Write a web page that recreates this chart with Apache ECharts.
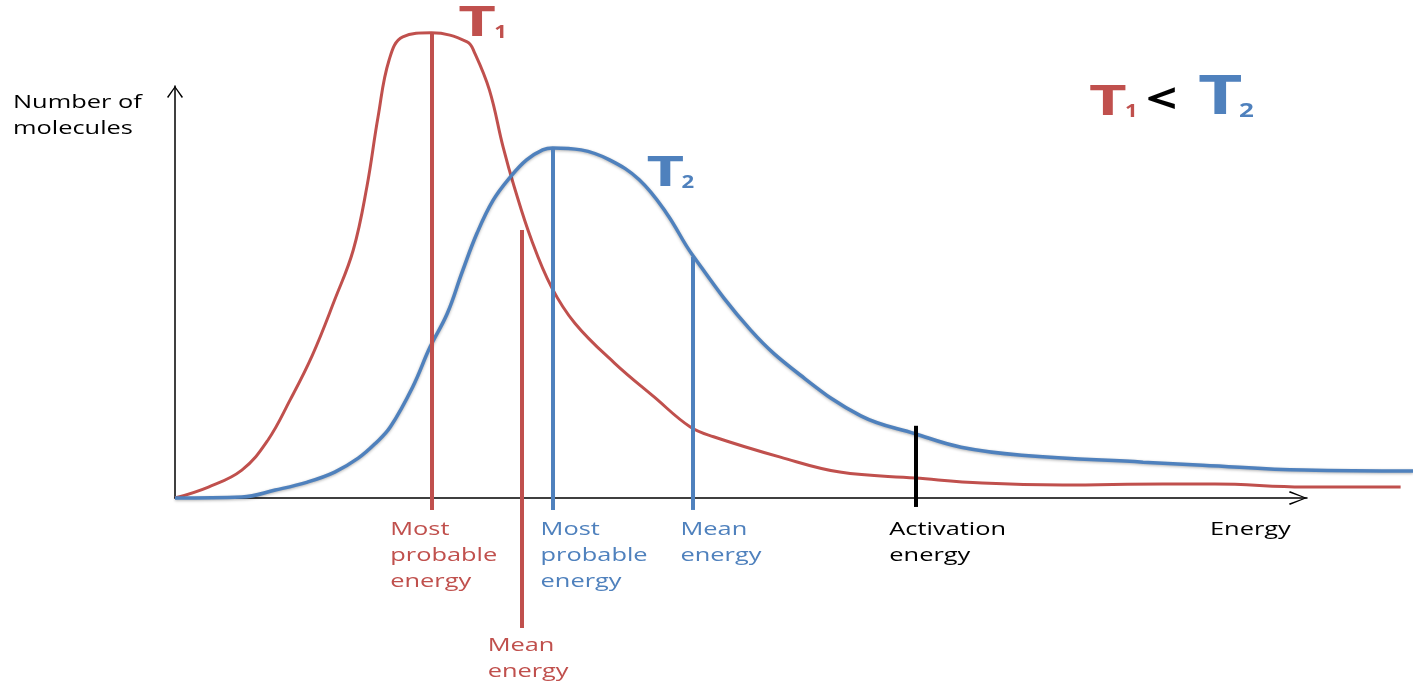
<!DOCTYPE html>
<html>
<head>
<meta charset="utf-8">
<script src="https://cdn.jsdelivr.net/npm/echarts@6.0.0/dist/echarts.min.js"></script>
<style>
html, body { margin: 0; padding: 0; background: #fff; }
#chart { width: 1413px; height: 684px; }
</style>
</head>
<body>
<div id="chart"></div>
<script>
// energy (0-100) vs number of molecules (0-100)
var energyT1 = [0, 2.7, 5.4, 7.5, 9.3, 11.1, 12.9, 14.4, 15.5, 16.4, 17.3, 18.4, 20.7, 23.6, 24.2, 25.4, 26.5, 27.4, 28.8, 30.4, 32.3, 35.5, 38.7, 41.6, 43.5, 48.9, 53.7, 59.8, 65.2, 71.7, 79.8, 84.0, 91.2, 99.0];
var countT1 = [0, 2.2, 5.6, 11.6, 19.7, 28.7, 39.8, 49.8, 62.5, 76.5, 88.0, 92.6, 93.4, 91.6, 89.4, 81.9, 70.5, 62.5, 51.8, 42.4, 35.1, 27.1, 20.3, 14.3, 12.3, 8.2, 5.2, 4.0, 3.0, 2.6, 2.8, 2.8, 2.2, 2.2];
var energyT2 = [0, 5.4, 8.1, 10.7, 12.9, 14.8, 16.2, 17.4, 19.2, 20.6, 22.0, 23.2, 24.4, 25.7, 27.1, 28.4, 29.7, 30.5, 32.8, 35.1, 37.5, 39.7, 41.8, 46.5, 50.5, 55.4, 59.8, 63.5, 68.4, 78.2, 83.0, 91.2, 100];
var countT2 = [0, 0.2, 1.6, 3.2, 5.2, 8.0, 11.0, 14.3, 22.3, 30.3, 37.1, 45.4, 53.2, 59.8, 64.5, 67.9, 69.9, 70.3, 69.9, 67.9, 63.9, 57.2, 48.8, 33.7, 24.7, 16.5, 12.9, 10.2, 8.6, 7.2, 6.6, 5.6, 5.4];

// [most probable, mean] energy and the curve height there
var markT1 = [20.7, 28.0];
var markTopT1 = [93.4, 53.8];
var markT2 = [30.5, 41.8];
var markTopT2 = [70.3, 48.4];
var activationEnergy = 59.8;
var activationTop = 14.5;

var markLabelsT1 = [['Most', 'probable', 'energy'], ['Mean', 'energy']];
var markLabelsT2 = [['Most', 'probable', 'energy'], ['Mean', 'energy']];
var activationLabel = ['Activation', 'energy'];
var xAxisName = 'Energy';
var yAxisName = ['Number of', 'molecules'];

(function() {
    var RED = '#c0504d';
    var BLUE = '#4f81bd';
    var FONT = '"Open Sans", "Noto Sans", sans-serif';
    var STRETCH = 1.41;
    var chart = echarts.init(document.getElementById('chart'));

    function pairs(xs, ys) {
        return xs.map(function(x, i) { return [x, ys[i]]; });
    }
    function vline(x, top, bottom, color) {
        return [{coord: [x, top], lineStyle: {color: color}}, {coord: [x, bottom]}];
    }

    option = {
        backgroundColor: '#fff',
        animation: false,
        grid: [
            {left: 175, right: 0, top: 0, bottom: 36.6},
            {left: 175, right: 106, top: 86, bottom: 186}
        ],
        xAxis: [
            {type: 'value', gridIndex: 0, min: 0, max: 100, show: false},
            {
                type: 'value', gridIndex: 1, min: 0, max: 1,
                axisLine: {
                    show: true,
                    symbol: ['none', 'path://M7,0 L14,17.2 L12.6,18 L7,2.6 L1.4,18 L0,17.2 Z'],
                    symbolSize: [14, 18],
                    symbolOffset: [0, -9],
                    lineStyle: {color: '#000', width: 1.5}
                },
                axisTick: {show: false}, axisLabel: {show: false}, splitLine: {show: false}
            }
        ],
        yAxis: [
            {type: 'value', gridIndex: 0, min: -30, max: 100, show: false},
            {
                type: 'value', gridIndex: 1, min: 0, max: 1,
                axisLine: {
                    show: true,
                    symbol: ['none', 'path://M8,0 L16,11 L14.8,12 L8,2 L1.2,12 L0,11 Z'],
                    symbolSize: [16, 12],
                    symbolOffset: [0, -6],
                    lineStyle: {color: '#000', width: 1.5}
                },
                axisTick: {show: false}, axisLabel: {show: false}, splitLine: {show: false}
            }
        ],
        series: [
            {
                name: 'T1',
                type: 'line',
                xAxisIndex: 0, yAxisIndex: 0,
                data: pairs(energyT1, countT1),
                smooth: 0.4,
                showSymbol: false,
                lineStyle: {color: RED, width: 3},
                markLine: {
                    silent: true,
                    symbol: 'none',
                    label: {show: false},
                    lineStyle: {width: 4, type: 'solid'},
                    data: [
                        vline(markT1[0], markTopT1[0], -2.4, RED),
                        vline(markT1[1], markTopT1[1], -26.1, RED)
                    ]
                }
            },
            {
                name: 'T2',
                type: 'line',
                xAxisIndex: 0, yAxisIndex: 0,
                data: pairs(energyT2, countT2),
                smooth: 0.4,
                showSymbol: false,
                lineStyle: {
                    color: BLUE, width: 3.5,
                    shadowColor: 'rgba(0,0,0,0.3)', shadowBlur: 3, shadowOffsetY: 1
                },
                markLine: {
                    silent: true,
                    symbol: 'none',
                    label: {show: false},
                    lineStyle: {width: 4, type: 'solid'},
                    data: [
                        vline(markT2[0], markTopT2[0], -2.4, BLUE),
                        vline(markT2[1], markTopT2[1], -2.4, BLUE),
                        vline(activationEnergy, activationTop, -1.8, '#000')
                    ]
                }
            }
        ]
    };
    chart.setOption(option);

    // text annotations, anchored to the data through the grid
    var texts = [];
    function addText(left, baseline, str, size, color, weight, sx) {
        texts.push({
            type: 'text',
            x: left,
            y: baseline - 0.36 * size,
            scaleX: sx || STRETCH,
            silent: true,
            z: 100,
            style: {
                text: str,
                fill: color,
                fontSize: size,
                fontFamily: FONT,
                fontWeight: weight || 'normal',
                align: 'left',
                verticalAlign: 'middle'
            }
        });
    }
    function addBlock(left, baseline, lines, color) {
        lines.forEach(function(s, i) { addText(left, baseline + i * 26, s, 18, color); });
    }
    function px(x, y) {
        return chart.convertToPixel({gridIndex: 0}, [x, y]);
    }
    var axisY = px(0, 0)[1];

    addBlock(px(markT1[0], 0)[0] - 41, axisY + 38, markLabelsT1[0], RED);
    addBlock(px(markT1[1], 0)[0] - 34, axisY + 154, markLabelsT1[1], RED);
    addBlock(px(markT2[0], 0)[0] - 12, axisY + 38, markLabelsT2[0], BLUE);
    addBlock(px(markT2[1], 0)[0] - 12, axisY + 38, markLabelsT2[1], BLUE);
    addBlock(px(activationEnergy, 0)[0] - 26, axisY + 38, activationLabel, '#000');

    var axisEnd = chart.convertToPixel({xAxisIndex: 1}, 1);
    var axisTop = chart.convertToPixel({yAxisIndex: 1}, 1);
    addBlock(axisEnd - 97, axisY + 38, [xAxisName], '#000');
    addBlock(13, axisTop + 23, yAxisName, '#000');

    // curve names next to the peaks
    var p1 = px(markT1[0], markTopT1[0]);
    addText(p1[0] + 27, p1[1] + 6, 'T', 42, RED, 'bold', 1.55);
    addText(p1[0] + 63, p1[1] + 6, '1', 17, RED, 'bold', 1.3);
    var p2 = px(markT2[0], markTopT2[0]);
    addText(p2[0] + 94, p2[1] + 41, 'T', 42, BLUE, 'bold', 1.55);
    addText(p2[0] + 129, p2[1] + 41, '2', 17, BLUE, 'bold', 1.3);

    // T1 < T2
    addText(1089, 118, 'T', 42, RED, 'bold', 1.55);
    addText(1125, 118, '1', 17, RED, 'bold', 1.3);
    addText(1146, 116, '<', 42, '#000', 'bold', 1.3);
    addText(1198, 118, 'T', 53, BLUE, 'bold', 1.45);
    addText(1239, 118, '2', 20, BLUE, 'bold', 1.3);

    chart.setOption({graphic: texts});
})();
</script>
</body>
</html>
